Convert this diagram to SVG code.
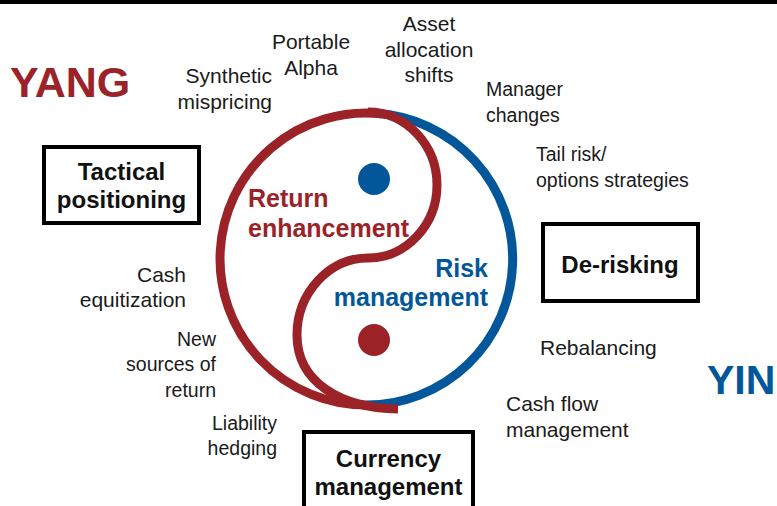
<svg xmlns="http://www.w3.org/2000/svg" width="777" height="506" viewBox="0 0 777 506">
<style>
.lbl{font-family:"Liberation Sans",Arial,sans-serif;font-size:19.5px;fill:#1a1a1a}
.w{font-size:21px}
.box{fill:#fff;stroke:#000;stroke-width:4}
.bt{font-family:"Liberation Sans",Arial,sans-serif;font-size:24px;font-weight:bold;fill:#111;text-anchor:middle}
.red{fill:#9B2328}
.blue{fill:#02579B}
.big{font-family:"Liberation Sans",Arial,sans-serif;font-size:43px;font-weight:bold}
.mid{font-family:"Liberation Sans",Arial,sans-serif;font-size:25px;font-weight:bold}
.r{text-anchor:end}
.c{text-anchor:middle}
</style>
<rect x="0" y="0" width="777" height="506" fill="#fff"/>
<rect x="0" y="0" width="777" height="4" fill="#000"/>

<g id="yinyang" fill="none" stroke-width="9">
<path d="M376 113.3 A146 146 0 0 1 366 405" stroke="#02579B"/>
<path d="M381.3 113.8 A146 146 0 1 0 366 405" stroke="#9B2328"/>
<path d="M368 112 C406 112 437 145 437 185 C437 225 406 258 368 258 C329 258 297 293 297 335 C297 382 340 408 398 409" stroke="#9B2328"/>
<circle cx="374" cy="179" r="16" fill="#02579B" stroke="none"/>
<circle cx="374" cy="340" r="16" fill="#9B2328" stroke="none"/>
</g>

<text class="big red" x="10" y="97">YANG</text>
<text class="big blue" x="707" y="394" style="font-size:41px">YIN</text>

<g id="return-enhancement">
<text class="mid red" x="248" y="207">Return</text>
<text class="mid red" x="248" y="237">enhancement</text>
</g>
<g id="risk-management">
<text class="mid blue r" x="488" y="277">Risk</text>
<text class="mid blue r" x="488" y="306">management</text>
</g>

<g id="tactical">
<rect class="box" x="44" y="147" width="155" height="76"/>
<text class="bt" x="121.5" y="180">Tactical</text>
<text class="bt" x="121.5" y="208">positioning</text>
</g>
<g id="derisking">
<rect class="box" x="543" y="224" width="155" height="77"/>
<text class="bt" x="620" y="273">De-risking</text>
</g>
<g id="currency">
<rect class="box" x="304" y="432" width="169" height="80"/>
<text class="bt" x="388.5" y="467">Currency</text>
<text class="bt" x="388.5" y="495">management</text>
</g>

<g id="labels">
<text class="lbl w c" x="311" y="49">Portable</text>
<text class="lbl w c" x="311" y="75">Alpha</text>
<text class="lbl w c" x="429" y="31">Asset</text>
<text class="lbl w c" x="429" y="57">allocation</text>
<text class="lbl w c" x="429" y="82">shifts</text>
<text class="lbl w r" x="272" y="83">Synthetic</text>
<text class="lbl w r" x="272" y="109">mispricing</text>
<text class="lbl" x="486" y="96">Manager</text>
<text class="lbl" x="486" y="122">changes</text>
<text class="lbl" x="536" y="161">Tail risk/</text>
<text class="lbl" x="536" y="187">options strategies</text>
<text class="lbl w r" x="186" y="282">Cash</text>
<text class="lbl w r" x="186" y="307">equitization</text>
<text class="lbl r" x="216" y="346">New</text>
<text class="lbl r" x="216" y="371">sources of</text>
<text class="lbl r" x="216" y="397">return</text>
<text class="lbl r" x="277" y="430">Liability</text>
<text class="lbl r" x="277" y="455">hedging</text>
<text class="lbl w" x="540" y="355">Rebalancing</text>
<text class="lbl w" x="506" y="411">Cash flow</text>
<text class="lbl w" x="506" y="437">management</text>
</g>
</svg>
